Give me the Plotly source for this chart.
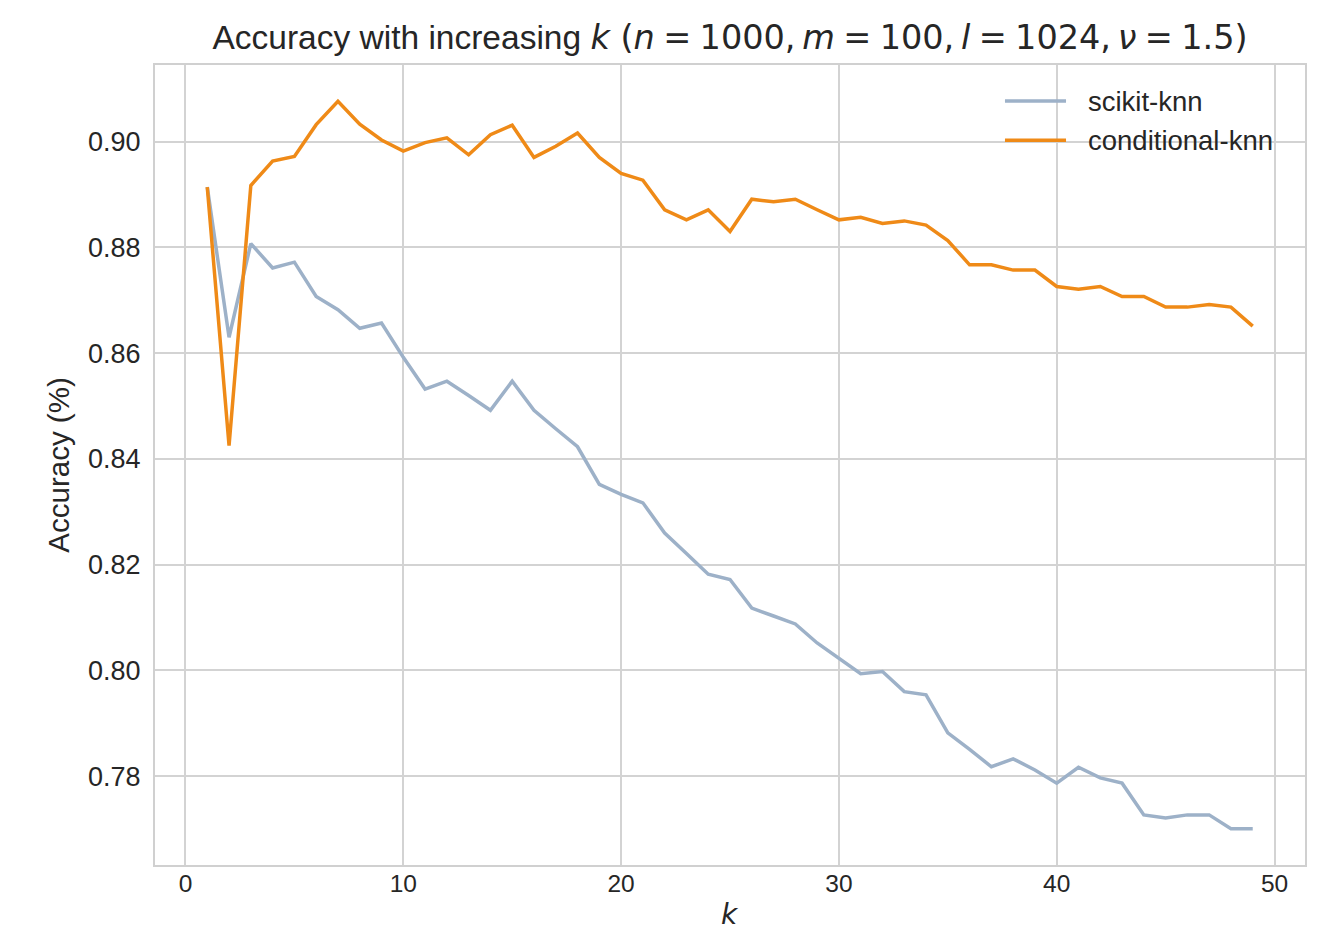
import plotly.graph_objects as go

k_values = list(range(1, 50))

scikit_knn = [
    0.8914, 0.8630, 0.8807, 0.8761, 0.8772, 0.8707, 0.8682, 0.8647, 0.8657, 0.8592,
    0.8532, 0.8547, 0.8520, 0.8492, 0.8547, 0.8492, 0.8457, 0.8423, 0.8352, 0.8333,
    0.8317, 0.8260, 0.8221, 0.8182, 0.8172, 0.8118, 0.8103, 0.8088, 0.8052, 0.8023,
    0.7994, 0.7998, 0.7960, 0.7954, 0.7882, 0.7851, 0.7818, 0.7833, 0.7812, 0.7787,
    0.7817, 0.7797, 0.7787, 0.7727, 0.7721, 0.7727, 0.7727, 0.7701, 0.7701,
]

conditional_knn = [
    0.8914, 0.8425, 0.8917, 0.8963, 0.8972, 0.9032, 0.9076, 0.9033, 0.9003, 0.8982,
    0.8998, 0.9007, 0.8975, 0.9013, 0.9031, 0.8970, 0.8991, 0.9016, 0.8970, 0.8940,
    0.8927, 0.8871, 0.8852, 0.8871, 0.8830, 0.8891, 0.8886, 0.8891, 0.8871, 0.8852,
    0.8857, 0.8845, 0.8850, 0.8842, 0.8813, 0.8767, 0.8767, 0.8757, 0.8757, 0.8726,
    0.8721, 0.8726, 0.8707, 0.8707, 0.8687, 0.8687, 0.8692, 0.8687, 0.8651,
]

series_names = ["scikit-knn", "conditional-knn"]
series_colors = ["#9db1c8", "#ef8a17"]

x_ticks = [0, 10, 20, 30, 40, 50]
y_ticks = [0.78, 0.80, 0.82, 0.84, 0.86, 0.88, 0.90]
y_tick_labels = ["0.78", "0.80", "0.82", "0.84", "0.86", "0.88", "0.90"]

# matplotlib-style 5% margins
def padded(lo, hi, frac=0.05):
    span = hi - lo
    return [lo - frac * span, hi + frac * span]

all_y = scikit_knn + conditional_knn
x_range = padded(min(k_values), max(k_values))
y_range = padded(min(all_y), max(all_y))

fig = go.Figure()
for name, ys, col in zip(series_names, [scikit_knn, conditional_knn], series_colors):
    fig.add_trace(go.Scatter(
        x=k_values, y=ys, mode="lines", name=name,
        line=dict(color=col, width=3.5), showlegend=False,
    ))

# manual legend (matplotlib-like, frameless, upper right)
leg_x0, leg_x1, leg_tx = 0.7391, 0.7922, 0.8096
leg_rows = [0.955, 0.906]
for name, col, ly in zip(series_names, series_colors, leg_rows):
    fig.add_shape(type="line", xref="paper", yref="paper",
                  x0=leg_x0, x1=leg_x1, y0=ly, y1=ly,
                  line=dict(color=col, width=3.5))
    fig.add_annotation(xref="paper", yref="paper", x=leg_tx, y=ly,
                       text=name, showarrow=False, xanchor="left", yanchor="middle",
                       font=dict(family="Liberation Sans, Arial, sans-serif", size=27.5, color="#262626"))

# x-axis label (placed as annotation so it can sit low, like the reference)
fig.add_annotation(xref="paper", yref="paper", x=0.5, y=0, yshift=-68,
                   text="<i>k</i>", showarrow=False, xanchor="center", yanchor="bottom",
                   font=dict(family="DejaVu Sans", size=28, color="#262626"))

sp = "\u2005"   # medium math space around '='
th = "\u2009"   # thin space after commas
math = ('<span style="font-family:DejaVu Sans"><i>k</i> (<i>n</i>' + sp + '=' + sp + '1000,' + th +
        '<i>m</i>' + sp + '=' + sp + '100,' + th +
        '<i>l</i>' + sp + '=' + sp + '1024,' + th +
        '<i>ν</i>' + sp + '=' + sp + '1.5)</span>')

fig.update_layout(
    width=1337, height=934,
    margin=dict(l=155, r=32, t=65, b=69, autoexpand=False),
    paper_bgcolor="white", plot_bgcolor="white",
    font=dict(family="Liberation Sans, Arial, sans-serif", color="#262626"),
    title=dict(text="Accuracy with increasing " + math,
               x=0.5, xref="paper", xanchor="center",
               y=1 - 37 / 934, yref="container", yanchor="middle",
               font=dict(size=33.5, color="#262626")),
    showlegend=False,
)

fig.update_xaxes(
    range=x_range, tickvals=x_ticks, automargin=False,
    showgrid=True, gridcolor="#d3d3d3", gridwidth=1.5,
    zeroline=False, showline=True, linecolor="#d0d0d0", linewidth=2, mirror=True,
    ticks="", tickfont=dict(size=24.5, color="#262626"), ticklabelstandoff=-4,
)
fig.update_yaxes(
    range=y_range, tickvals=y_ticks, ticktext=y_tick_labels, automargin=False,
    showgrid=True, gridcolor="#d3d3d3", gridwidth=1.5,
    zeroline=False, showline=True, linecolor="#d0d0d0", linewidth=2, mirror=True,
    ticks="", tickfont=dict(size=27, color="#262626"), ticklabelstandoff=7,
    title=dict(text="Accuracy (%)", font=dict(size=29.5, color="#262626"), standoff=10),
)

fig.write_html("out.html")
